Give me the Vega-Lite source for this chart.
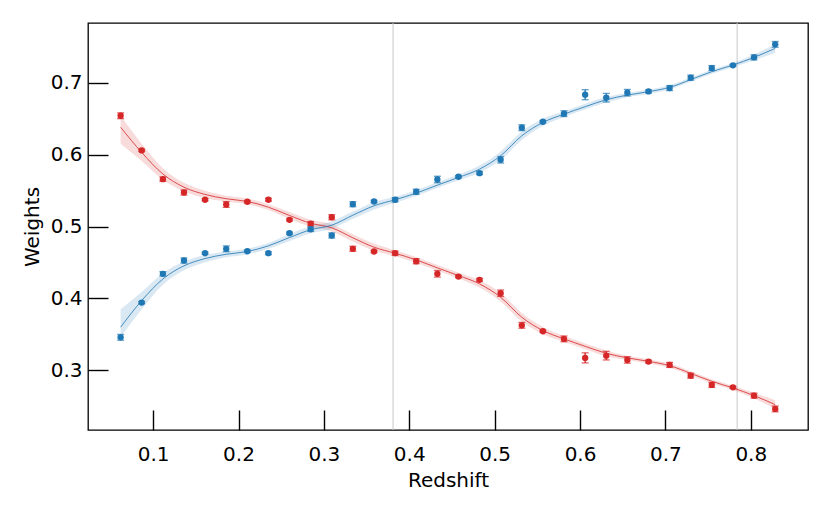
{
  "$schema": "https://vega.github.io/schema/vega-lite/v6.json",
  "width": 720,
  "height": 407,
  "autosize": {"type": "none"},
  "padding": {"left": 88, "top": 23, "right": 23, "bottom": 84},
  "background": "white",
  "datasets": {
    "pts": [
      {"z":0.0619,"s":"red","w":0.654,"lo":0.650,"hi":0.658},
      {"z":0.0866,"s":"red","w":0.6058,"lo":0.6043,"hi":0.6073},
      {"z":0.1114,"s":"red","w":0.5658,"lo":0.5628,"hi":0.5688},
      {"z":0.1361,"s":"red","w":0.5473,"lo":0.5438,"hi":0.5508},
      {"z":0.1608,"s":"red","w":0.5372,"lo":0.5357,"hi":0.5387},
      {"z":0.1856,"s":"red","w":0.5306,"lo":0.5266,"hi":0.5346},
      {"z":0.2103,"s":"red","w":0.5344,"lo":0.5329,"hi":0.5359},
      {"z":0.2350,"s":"red","w":0.5372,"lo":0.5352,"hi":0.5392},
      {"z":0.2597,"s":"red","w":0.5093,"lo":0.5078,"hi":0.5108},
      {"z":0.2845,"s":"red","w":0.5038,"lo":0.5008,"hi":0.5068},
      {"z":0.3092,"s":"red","w":0.5129,"lo":0.5094,"hi":0.5164},
      {"z":0.3339,"s":"red","w":0.4690,"lo":0.4655,"hi":0.4725},
      {"z":0.3587,"s":"red","w":0.4652,"lo":0.4637,"hi":0.4667},
      {"z":0.3834,"s":"red","w":0.4628,"lo":0.4598,"hi":0.4658},
      {"z":0.4081,"s":"red","w":0.4517,"lo":0.4482,"hi":0.4552},
      {"z":0.4329,"s":"red","w":0.4342,"lo":0.4297,"hi":0.4387},
      {"z":0.4576,"s":"red","w":0.4304,"lo":0.4289,"hi":0.4319},
      {"z":0.4823,"s":"red","w":0.4258,"lo":0.4238,"hi":0.4278},
      {"z":0.5070,"s":"red","w":0.4072,"lo":0.4027,"hi":0.4117},
      {"z":0.5318,"s":"red","w":0.3626,"lo":0.3586,"hi":0.3666},
      {"z":0.5565,"s":"red","w":0.3543,"lo":0.3528,"hi":0.3558},
      {"z":0.5812,"s":"red","w":0.3437,"lo":0.3397,"hi":0.3477},
      {"z":0.6060,"s":"red","w":0.3173,"lo":0.3103,"hi":0.3243},
      {"z":0.6307,"s":"red","w":0.3204,"lo":0.3144,"hi":0.3264},
      {"z":0.6554,"s":"red","w":0.3145,"lo":0.3100,"hi":0.3190},
      {"z":0.6802,"s":"red","w":0.3121,"lo":0.3101,"hi":0.3141},
      {"z":0.7049,"s":"red","w":0.3075,"lo":0.3040,"hi":0.3110},
      {"z":0.7296,"s":"red","w":0.2926,"lo":0.2891,"hi":0.2961},
      {"z":0.7543,"s":"red","w":0.2797,"lo":0.2762,"hi":0.2832},
      {"z":0.7791,"s":"red","w":0.2763,"lo":0.2748,"hi":0.2778},
      {"z":0.8038,"s":"red","w":0.2648,"lo":0.2613,"hi":0.2683},
      {"z":0.8286,"s":"red","w":0.2463,"lo":0.2423,"hi":0.2503},
      {"z":0.0619,"s":"blue","w":0.3459,"lo":0.3419,"hi":0.3499},
      {"z":0.0866,"s":"blue","w":0.3942,"lo":0.3927,"hi":0.3957},
      {"z":0.1114,"s":"blue","w":0.4342,"lo":0.4312,"hi":0.4372},
      {"z":0.1361,"s":"blue","w":0.4527,"lo":0.4492,"hi":0.4562},
      {"z":0.1608,"s":"blue","w":0.4628,"lo":0.4613,"hi":0.4643},
      {"z":0.1856,"s":"blue","w":0.4690,"lo":0.4650,"hi":0.4730},
      {"z":0.2103,"s":"blue","w":0.4656,"lo":0.4641,"hi":0.4671},
      {"z":0.2350,"s":"blue","w":0.4628,"lo":0.4608,"hi":0.4648},
      {"z":0.2597,"s":"blue","w":0.4907,"lo":0.4892,"hi":0.4922},
      {"z":0.2845,"s":"blue","w":0.4962,"lo":0.4932,"hi":0.4992},
      {"z":0.3092,"s":"blue","w":0.4875,"lo":0.4840,"hi":0.4910},
      {"z":0.3339,"s":"blue","w":0.5310,"lo":0.5275,"hi":0.5345},
      {"z":0.3587,"s":"blue","w":0.5348,"lo":0.5333,"hi":0.5363},
      {"z":0.3834,"s":"blue","w":0.5372,"lo":0.5342,"hi":0.5402},
      {"z":0.4081,"s":"blue","w":0.5483,"lo":0.5448,"hi":0.5518},
      {"z":0.4329,"s":"blue","w":0.5654,"lo":0.5609,"hi":0.5699},
      {"z":0.4576,"s":"blue","w":0.5692,"lo":0.5677,"hi":0.5707},
      {"z":0.4823,"s":"blue","w":0.5742,"lo":0.5722,"hi":0.5762},
      {"z":0.5070,"s":"blue","w":0.5928,"lo":0.5883,"hi":0.5973},
      {"z":0.5318,"s":"blue","w":0.6374,"lo":0.6334,"hi":0.6414},
      {"z":0.5565,"s":"blue","w":0.6457,"lo":0.6442,"hi":0.6472},
      {"z":0.5812,"s":"blue","w":0.6569,"lo":0.6529,"hi":0.6609},
      {"z":0.6060,"s":"blue","w":0.6833,"lo":0.6763,"hi":0.6903},
      {"z":0.6307,"s":"blue","w":0.6791,"lo":0.6731,"hi":0.6851},
      {"z":0.6554,"s":"blue","w":0.6861,"lo":0.6816,"hi":0.6906},
      {"z":0.6802,"s":"blue","w":0.6879,"lo":0.6859,"hi":0.6899},
      {"z":0.7049,"s":"blue","w":0.6925,"lo":0.6890,"hi":0.6960},
      {"z":0.7296,"s":"blue","w":0.7070,"lo":0.7035,"hi":0.7105},
      {"z":0.7543,"s":"blue","w":0.7203,"lo":0.7168,"hi":0.7238},
      {"z":0.7791,"s":"blue","w":0.7241,"lo":0.7226,"hi":0.7256},
      {"z":0.8038,"s":"blue","w":0.7352,"lo":0.7317,"hi":0.7387},
      {"z":0.8286,"s":"blue","w":0.7533,"lo":0.7493,"hi":0.7573}
    ],
    "fit": [
      {"z":0.0619,"s":"red","f":0.638,"lo":0.615,"hi":0.654},
      {"z":0.0866,"s":"red","f":0.603,"lo":0.591,"hi":0.615},
      {"z":0.1114,"s":"red","f":0.573,"lo":0.565,"hi":0.581},
      {"z":0.1361,"s":"red","f":0.5547,"lo":0.5487,"hi":0.5607},
      {"z":0.1608,"s":"red","f":0.5446,"lo":0.5396,"hi":0.5496},
      {"z":0.1856,"s":"red","f":0.5386,"lo":0.5346,"hi":0.5426},
      {"z":0.2103,"s":"red","f":0.5348,"lo":0.5308,"hi":0.5388},
      {"z":0.2350,"s":"red","f":0.5269,"lo":0.5229,"hi":0.5309},
      {"z":0.2597,"s":"red","f":0.5153,"lo":0.5103,"hi":0.5203},
      {"z":0.2845,"s":"red","f":0.5045,"lo":0.4995,"hi":0.5095},
      {"z":0.3092,"s":"red","f":0.4982,"lo":0.4932,"hi":0.5032},
      {"z":0.3339,"s":"red","f":0.4843,"lo":0.4793,"hi":0.4893},
      {"z":0.3587,"s":"red","f":0.4712,"lo":0.4662,"hi":0.4762},
      {"z":0.3834,"s":"red","f":0.4628,"lo":0.4588,"hi":0.4668},
      {"z":0.4081,"s":"red","f":0.4536,"lo":0.4496,"hi":0.4576},
      {"z":0.4329,"s":"red","f":0.4425,"lo":0.4385,"hi":0.4465},
      {"z":0.4576,"s":"red","f":0.4318,"lo":0.4278,"hi":0.4358},
      {"z":0.4823,"s":"red","f":0.4202,"lo":0.4152,"hi":0.4252},
      {"z":0.5070,"s":"red","f":0.4016,"lo":0.3956,"hi":0.4076},
      {"z":0.5318,"s":"red","f":0.3738,"lo":0.3678,"hi":0.3798},
      {"z":0.5565,"s":"red","f":0.3553,"lo":0.3503,"hi":0.3603},
      {"z":0.5812,"s":"red","f":0.3437,"lo":0.3397,"hi":0.3477},
      {"z":0.6060,"s":"red","f":0.3334,"lo":0.3294,"hi":0.3374},
      {"z":0.6307,"s":"red","f":0.3237,"lo":0.3197,"hi":0.3277},
      {"z":0.6554,"s":"red","f":0.3173,"lo":0.3143,"hi":0.3203},
      {"z":0.6802,"s":"red","f":0.3125,"lo":0.3095,"hi":0.3155},
      {"z":0.7049,"s":"red","f":0.3065,"lo":0.3035,"hi":0.3095},
      {"z":0.7296,"s":"red","f":0.2958,"lo":0.2928,"hi":0.2988},
      {"z":0.7543,"s":"red","f":0.2847,"lo":0.2817,"hi":0.2877},
      {"z":0.7791,"s":"red","f":0.2755,"lo":0.2725,"hi":0.2785},
      {"z":0.8038,"s":"red","f":0.2648,"lo":0.2608,"hi":0.2688},
      {"z":0.8286,"s":"red","f":0.2523,"lo":0.2463,"hi":0.2583},
      {"z":0.0619,"s":"blue","f":0.360,"lo":0.346,"hi":0.385},
      {"z":0.0866,"s":"blue","f":0.397,"lo":0.385,"hi":0.409},
      {"z":0.1114,"s":"blue","f":0.427,"lo":0.419,"hi":0.435},
      {"z":0.1361,"s":"blue","f":0.4453,"lo":0.4393,"hi":0.4513},
      {"z":0.1608,"s":"blue","f":0.4554,"lo":0.4504,"hi":0.4604},
      {"z":0.1856,"s":"blue","f":0.4614,"lo":0.4574,"hi":0.4654},
      {"z":0.2103,"s":"blue","f":0.4652,"lo":0.4612,"hi":0.4692},
      {"z":0.2350,"s":"blue","f":0.4731,"lo":0.4691,"hi":0.4771},
      {"z":0.2597,"s":"blue","f":0.4847,"lo":0.4797,"hi":0.4897},
      {"z":0.2845,"s":"blue","f":0.4955,"lo":0.4905,"hi":0.5005},
      {"z":0.3092,"s":"blue","f":0.5018,"lo":0.4968,"hi":0.5068},
      {"z":0.3339,"s":"blue","f":0.5157,"lo":0.5107,"hi":0.5207},
      {"z":0.3587,"s":"blue","f":0.5288,"lo":0.5238,"hi":0.5338},
      {"z":0.3834,"s":"blue","f":0.5372,"lo":0.5332,"hi":0.5412},
      {"z":0.4081,"s":"blue","f":0.5464,"lo":0.5424,"hi":0.5504},
      {"z":0.4329,"s":"blue","f":0.5575,"lo":0.5535,"hi":0.5615},
      {"z":0.4576,"s":"blue","f":0.5682,"lo":0.5642,"hi":0.5722},
      {"z":0.4823,"s":"blue","f":0.5798,"lo":0.5748,"hi":0.5848},
      {"z":0.5070,"s":"blue","f":0.5984,"lo":0.5924,"hi":0.6044},
      {"z":0.5318,"s":"blue","f":0.6262,"lo":0.6202,"hi":0.6322},
      {"z":0.5565,"s":"blue","f":0.6447,"lo":0.6397,"hi":0.6497},
      {"z":0.5812,"s":"blue","f":0.6563,"lo":0.6523,"hi":0.6603},
      {"z":0.6060,"s":"blue","f":0.6666,"lo":0.6626,"hi":0.6706},
      {"z":0.6307,"s":"blue","f":0.6763,"lo":0.6723,"hi":0.6803},
      {"z":0.6554,"s":"blue","f":0.6827,"lo":0.6797,"hi":0.6857},
      {"z":0.6802,"s":"blue","f":0.6875,"lo":0.6845,"hi":0.6905},
      {"z":0.7049,"s":"blue","f":0.6935,"lo":0.6905,"hi":0.6965},
      {"z":0.7296,"s":"blue","f":0.7042,"lo":0.7012,"hi":0.7072},
      {"z":0.7543,"s":"blue","f":0.7153,"lo":0.7123,"hi":0.7183},
      {"z":0.7791,"s":"blue","f":0.7245,"lo":0.7215,"hi":0.7275},
      {"z":0.8038,"s":"blue","f":0.7352,"lo":0.7312,"hi":0.7392},
      {"z":0.8286,"s":"blue","f":0.7477,"lo":0.7417,"hi":0.7537}
    ],
    "vlines": [{"z": 0.381}, {"z": 0.784}]
  },
  "encoding": {
    "x": {
      "field": "z", "type": "quantitative",
      "scale": {"domain": [0.0237, 0.867], "nice": false, "zero": false},
      "axis": {"title": "Redshift", "values": [0.1,0.2,0.3,0.4,0.5,0.6,0.7,0.8], "format": ".1f",
        "ticks": true, "tickSize": 20, "tickColor": "#000000", "tickWidth": 1.4, "offset": -20, "zindex": 2,
        "labelPadding": 14.5, "titlePadding": 6}
    }
  },
  "layer": [
    {
      "data": {"name": "vlines"},
      "mark": {"type": "rule", "color": "#c8c8c8", "strokeWidth": 1},
      "encoding": {}
    },
    {
      "data": {"name": "fit"},
      "mark": {"type": "area", "opacity": 0.17, "interpolate": "monotone"},
      "encoding": {
        "y": {"field": "lo", "type": "quantitative",
          "scale": {"domain": [0.217, 0.783], "nice": false, "zero": false},
          "axis": {"title": "Weights", "values": [0.3,0.4,0.5,0.6,0.7], "format": ".1f",
            "ticks": true, "tickSize": 20, "tickColor": "#000000", "tickWidth": 1.4, "offset": -20, "zindex": 2,
            "labelPadding": 6, "titlePadding": 8}},
        "y2": {"field": "hi"},
        "color": {"field": "s", "type": "nominal", "scale": {"domain": ["blue","red"], "range": ["#1f77b4","#d62728"]}, "legend": null}
      }
    },
    {
      "data": {"name": "fit"},
      "mark": {"type": "line", "strokeWidth": 1, "opacity": 0.8, "interpolate": "monotone"},
      "encoding": {
        "y": {"field": "f", "type": "quantitative"},
        "color": {"field": "s", "type": "nominal"}
      }
    },
    {
      "data": {"name": "pts"},
      "mark": {"type": "rule", "strokeWidth": 1.3},
      "encoding": {
        "y": {"field": "lo", "type": "quantitative"},
        "y2": {"field": "hi"},
        "color": {"field": "s", "type": "nominal"}
      }
    },
    {
      "data": {"name": "pts"},
      "mark": {"type": "tick", "orient": "horizontal", "size": 7, "thickness": 1.3},
      "encoding": {
        "y": {"field": "lo", "type": "quantitative"},
        "color": {"field": "s", "type": "nominal"}
      }
    },
    {
      "data": {"name": "pts"},
      "mark": {"type": "tick", "orient": "horizontal", "size": 7, "thickness": 1.3},
      "encoding": {
        "y": {"field": "hi", "type": "quantitative"},
        "color": {"field": "s", "type": "nominal"}
      }
    },
    {
      "data": {"name": "pts"},
      "mark": {"type": "circle", "size": 40, "opacity": 1},
      "encoding": {
        "y": {"field": "w", "type": "quantitative"},
        "color": {"field": "s", "type": "nominal"}
      }
    }
  ],
  "config": {
    "view": {"stroke": "black", "strokeWidth": 1.3},
    "axis": {
      "domain": false, "grid": false,
      "labelFont": "DejaVu Sans", "labelFontSize": 20, "labelColor": "black",
      "titleFont": "DejaVu Sans", "titleFontSize": 20, "titleFontWeight": "normal", "titleColor": "black"
    }
  }
}
